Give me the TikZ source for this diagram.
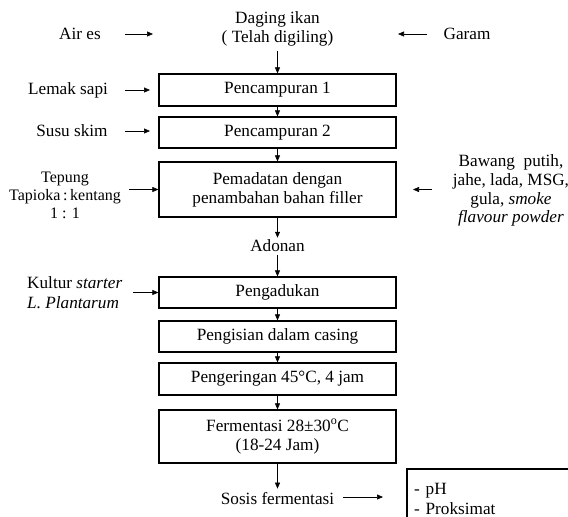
\documentclass[tikz,border=0pt]{standalone}
\usepackage{fontspec}
\setmainfont{Liberation Serif}
\usetikzlibrary{arrows.meta}
\begin{document}
\begin{tikzpicture}[x=1pt,y=-1pt,
  every node/.style={font=\fontsize{17.2}{18.8}\selectfont, inner sep=0pt, align=center},
  proc/.style={draw, line width=1.3pt, minimum width=237pt, anchor=center},
  arr/.style={-{Triangle[length=6pt,width=5pt]}, line width=0.6pt},
  lab/.style={anchor=center}]
\useasboundingbox (0,0) rectangle (568,517);
\clip (0,0) rectangle (568,517);
% process boxes
\node[proc, minimum height=32pt] (b1) at (277.5,90) {Pencampuran 1};
\node[proc, minimum height=31pt] (b2) at (277.5,132.5) {Pencampuran 2};
\node[proc, minimum height=55pt] (b3) at (277.5,189.5) {Pemadatan dengan\\penambahan bahan filler};
\node[proc, minimum height=31pt] (b4) at (277.5,292.5) {Pengadukan};
\node[proc, minimum height=31pt] (b5) at (277.5,336.5) {Pengisian dalam casing};
\node[proc, minimum height=32pt] (b6) at (277.5,379) {Pengeringan 45°C, 4 jam};
\node[proc, minimum height=53pt] (b7) at (277.5,436.5) {Fermentasi 28±30\textsuperscript{o}C\\(18-24 Jam)};
% labels
\node[lab] (daging) at (277.5,29) {Daging ikan\\( Telah digiling)};
\node[lab] (aires) at (80,34) {Air es};
\node[lab] (garam) at (467,34) {Garam};
\node[lab] (lemak) at (68,90) {Lemak sapi};
\node[lab] (susu) at (72,131) {Susu skim};
\node[lab, font=\fontsize{16}{18}\selectfont] (tepung) at (65,195) {Tepung\\Tapioka\,:\,kentang\\1 : 1};
\node[lab] (bumbu) at (511,190.5) {Bawang\ \ putih,\\jahe, lada, MSG,\\gula, \textit{smoke}\\\textit{flavour powder}};
\node[lab] (adonan) at (277.5,246) {Adonan};
\node[anchor=west, align=left] (kultur) at (27,293) {Kultur \textit{starter}\\[1pt]\textit{L. Plantarum}};
\node[lab] (sosis) at (277.5,499) {Sosis fermentasi};
\node[anchor=north west, align=left, text width=150pt, minimum height=60pt, inner xsep=7pt, inner ysep=9pt] (hasil) at (407,469) {- pH\\[1pt]- Proksimat};
\draw[line width=1.3pt] (hasil.north east) -- (hasil.north west) -- (hasil.south west);
% free arrow ends
\coordinate (aS) at (125,34); \coordinate (aE) at (153,34);
\coordinate (gS) at (427,34); \coordinate (gE) at (398,34);
\coordinate (lS) at (125,90); \coordinate (lE) at (150,90);
\coordinate (sS) at (125,131); \coordinate (sE) at (150,131);
\coordinate (tS) at (129,189.5);
\coordinate (rS) at (432,189.5); \coordinate (rE) at (413,189.5);
\coordinate (kS) at (133,292.5);
\coordinate (fS) at (343,497); \coordinate (fE) at (383,497);
% connectors
\draw[arr] (aS) -- (aE);
\draw[arr] (gS) -- (gE);
\draw[arr] (lS) -- (lE);
\draw[arr] (sS) -- (sE);
\draw[arr] (tS) -- (b3.west);
\draw[arr] (rS) -- (rE);
\draw[arr] (kS) -- (b4.west);
\draw[arr] (fS) -- (fE);
\draw[arr, shorten <=5pt] (daging.south) -- (b1.north);
\draw[arr] (b1.south) -- (b2.north);
\draw[arr] (b2.south) -- (b3.north);
\draw[arr, shorten >=2pt] (b3.south) -- (adonan.north);
\draw[arr, shorten <=3pt] (adonan.south) -- (b4.north);
\draw[arr] (b4.south) -- (b5.north);
\draw[arr] (b5.south) -- (b6.north);
\draw[arr] (b6.south) -- (b7.north);
\draw[arr, shorten >=4pt] (b7.south) -- (sosis.north);
\end{tikzpicture}
\end{document}
